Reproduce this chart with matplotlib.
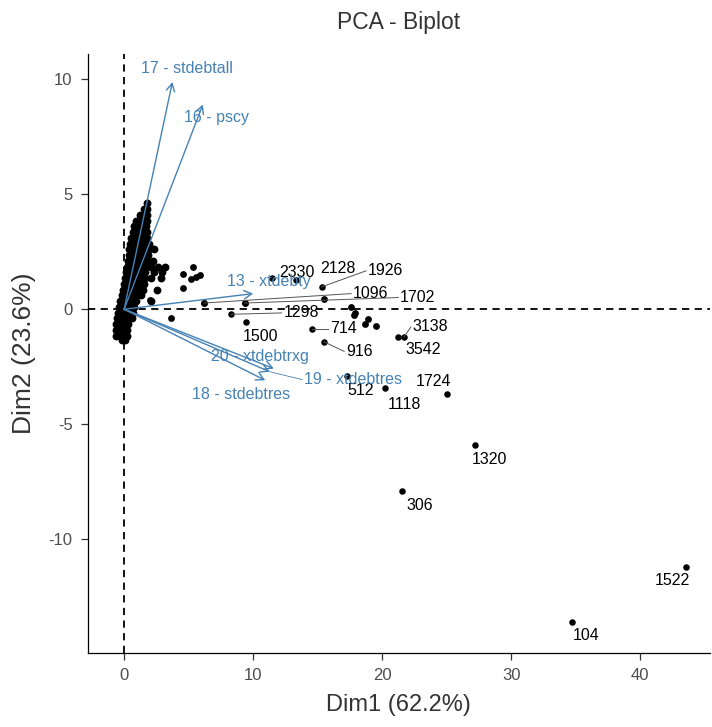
import matplotlib
matplotlib.use("Agg")
import matplotlib.pyplot as plt

plt.rcParams["font.family"] = ["Liberation Sans", "DejaVu Sans"]
plt.rcParams["axes.unicode_minus"] = False

# ── Individuals: dense cluster near the origin ────────────────────────────────
cluster_x = [
    1.80,
    1.55, 1.80,
    1.25, 1.55, 1.75,
    0.95, 1.25, 1.55, 1.75,
    0.80, 1.10, 1.40, 1.70,
    0.65, 0.95, 1.25, 1.55, 1.80,
    0.55, 0.85, 1.15, 1.45, 1.75,
    0.45, 0.75, 1.05, 1.35, 1.65, 1.95,
    0.40, 0.70, 1.00, 1.30, 1.60, 1.90, 2.35,
    0.35, 0.65, 0.95, 1.25, 1.55, 1.85,
    0.30, 0.60, 0.90, 1.20, 1.50, 1.80, 2.20,
    0.20, 0.50, 0.80, 1.10, 1.40, 1.70, 2.10, 2.60, 3.20,
    0.15, 0.45, 0.75, 1.05, 1.35, 1.65, 2.30, 2.90,
    0.05, 0.35, 0.65, 0.95, 1.25, 1.60, 2.10, 2.85,
    0.00, 0.30, 0.60, 0.90, 1.20, 1.55,
    -0.10, 0.20, 0.50, 0.80, 1.10, 1.45, 2.55,
    -0.20, 0.10, 0.40, 0.70, 1.00, 1.30,
    -0.30, 0.00, 0.30, 0.60, 0.90, 2.05,
    -0.40, -0.10, 0.20, 0.50, 0.80,
    -0.50, -0.20, 0.10, 0.40, 0.70,
    -0.55, -0.25, 0.05, 0.35, 0.60,
    -0.60, -0.30, 0.00, 0.30,
    -0.65, -0.35, -0.05, 0.25,
    -0.60, -0.30, 0.00, 0.20,
    -0.20, 0.10,
]
cluster_y = (
    [4.60]
    + [4.35] * 2
    + [4.10] * 3
    + [3.85] * 4
    + [3.60] * 4
    + [3.35] * 5
    + [3.10] * 5
    + [2.85] * 6
    + [2.60] * 7
    + [2.35] * 6
    + [2.10] * 7
    + [1.85] * 9
    + [1.60] * 8
    + [1.35] * 8
    + [1.10] * 6
    + [0.85] * 7
    + [0.60] * 6
    + [0.35] * 6
    + [0.10] * 5
    + [-0.15] * 5
    + [-0.40] * 5
    + [-0.65] * 4
    + [-0.90] * 4
    + [-1.15] * 4
    + [-1.35] * 2
)

# scattered unlabelled individuals
extra_x = [4.55, 5.30, 5.17, 5.60, 5.85, 4.55, 3.64, 2.00, 6.20, 9.33, 15.50,
           17.60, 17.90, 17.80, 18.90, 18.70, 19.50]
extra_y = [1.55, 1.84, 1.30, 1.40, 1.49, 0.93, -0.38, 0.42, 0.27, 0.27, 0.43,
           0.10, -0.16, -0.27, -0.42, -0.65, -0.74]

# ── Labelled individuals ──────────────────────────────────────────────────────
ind_names = ["1926", "1096", "1702", "1298", "714", "916", "3138",
             "2330", "2128", "1500", "3542", "512", "1118", "1724",
             "1320", "306", "1522", "104"]
ind_x = [15.30, 6.20, 9.33, 8.30, 14.55, 15.50, 21.70,
         11.45, 13.30, 9.46, 21.20, 17.30, 20.20, 25.06,
         27.20, 21.50, 43.54, 34.70]
ind_y = [0.97, 0.27, 0.27, -0.22, -0.84, -1.42, -1.20,
         1.38, 1.26, -0.55, -1.20, -2.90, -3.42, -3.70,
         -5.90, -7.90, -11.19, -13.62]
lab_x = [18.90, 17.75, 21.40, 12.35, 15.97, 17.20, 22.38,
         13.40, 16.60, 10.60, 23.20, 18.30, 21.70, 23.95,
         28.30, 22.90, 42.50, 35.80]
lab_y = [1.67, 0.68, 0.51, -0.16, -0.84, -1.83, -0.77,
         1.61, 1.77, -1.17, -1.75, -3.55, -4.13, -3.16,
         -6.54, -8.52, -11.78, -14.20]
lab_segment = [True] * 7 + [False] * 11

# ── Variables (arrows from the origin) ───────────────────────────────────────
var_names = ["17 - stdebtall", "16 - pscy", "13 - xtdebty",
             "20 - xtdebtrxg", "19 - xtdebtres", "18 - stdebtres"]
var_x = [3.74, 6.10, 10.00, 11.60, 11.30, 10.93]
var_y = [9.88, 8.90, 0.68, -2.58, -2.72, -3.09]
var_lab_x = [4.87, 7.19, 11.19, 10.54, 13.95, 9.03]
var_lab_y = [10.46, 8.36, 1.19, -2.07, -3.06, -3.71]
var_segment = [False, False, False, False, True, False]

ARROW = "#4682B4"

fig = plt.figure(figsize=(7.12, 7.27), dpi=100)
ax = fig.add_axes([0.1236, 0.1018, 0.8734, 0.8239])

ax.axhline(0, color="black", lw=1.3, ls=(0, (4, 3)), zorder=1)
ax.axvline(0, color="black", lw=1.3, ls=(0, (4, 3)), zorder=1)

ax.scatter(cluster_x, cluster_y, s=32, color="black", lw=0, zorder=2)
ax.scatter(extra_x, extra_y, s=24, color="black", lw=0, zorder=2)
ax.scatter(ind_x, ind_y, s=22, color="black", lw=0, zorder=2)

for name, px, py, lx, ly, seg in zip(ind_names, ind_x, ind_y, lab_x, lab_y,
                                     lab_segment):
    if seg:
        ax.plot([px, lx - 0.15], [py, ly], color="#555555", lw=0.7, zorder=2)
        ax.text(lx, ly, name, ha="left", va="center", fontsize=11.5,
                color="black", zorder=3)
    else:
        ax.text(lx, ly, name, ha="center", va="center", fontsize=11.5,
                color="black", zorder=3)

for name, vx, vy, lx, ly, seg in zip(var_names, var_x, var_y, var_lab_x,
                                     var_lab_y, var_segment):
    ax.annotate("", xy=(vx, vy), xytext=(0, 0),
                arrowprops=dict(arrowstyle="->,head_length=0.55,head_width=0.3",
                                color=ARROW, lw=1.0, shrinkA=0, shrinkB=0),
                zorder=4)
    if seg:
        ax.plot([vx, lx - 0.15], [vy, ly], color=ARROW, lw=0.6, zorder=4)
        ax.text(lx, ly, name, ha="left", va="center", fontsize=11.5,
                color=ARROW, zorder=5)
    else:
        ax.text(lx, ly, name, ha="center", va="center", fontsize=11.5,
                color=ARROW, zorder=5)

ax.set_xlim(-2.8, 45.4)
ax.set_ylim(-14.95, 11.1)
ax.set_xticks([0, 10, 20, 30, 40])
ax.set_yticks([-10, -5, 0, 5, 10])

for side in ["top", "right"]:
    ax.spines[side].set_visible(False)
for side in ["left", "bottom"]:
    ax.spines[side].set_linewidth(0.9)
    ax.spines[side].set_color("black")

ax.tick_params(length=5, width=0.9, color="#333333", labelcolor="#4D4D4D",
               labelsize=12, pad=6)

ax.set_xlabel("Dim1 (62.2%)", fontsize=17, color="#333333", labelpad=8)
ax.set_ylabel("Dim2 (23.6%)", fontsize=19, color="#333333", labelpad=9)
ax.set_title("PCA - Biplot", fontsize=16.5, color="#333333", pad=18)

fig.savefig("out.png", dpi=100, facecolor="white")
